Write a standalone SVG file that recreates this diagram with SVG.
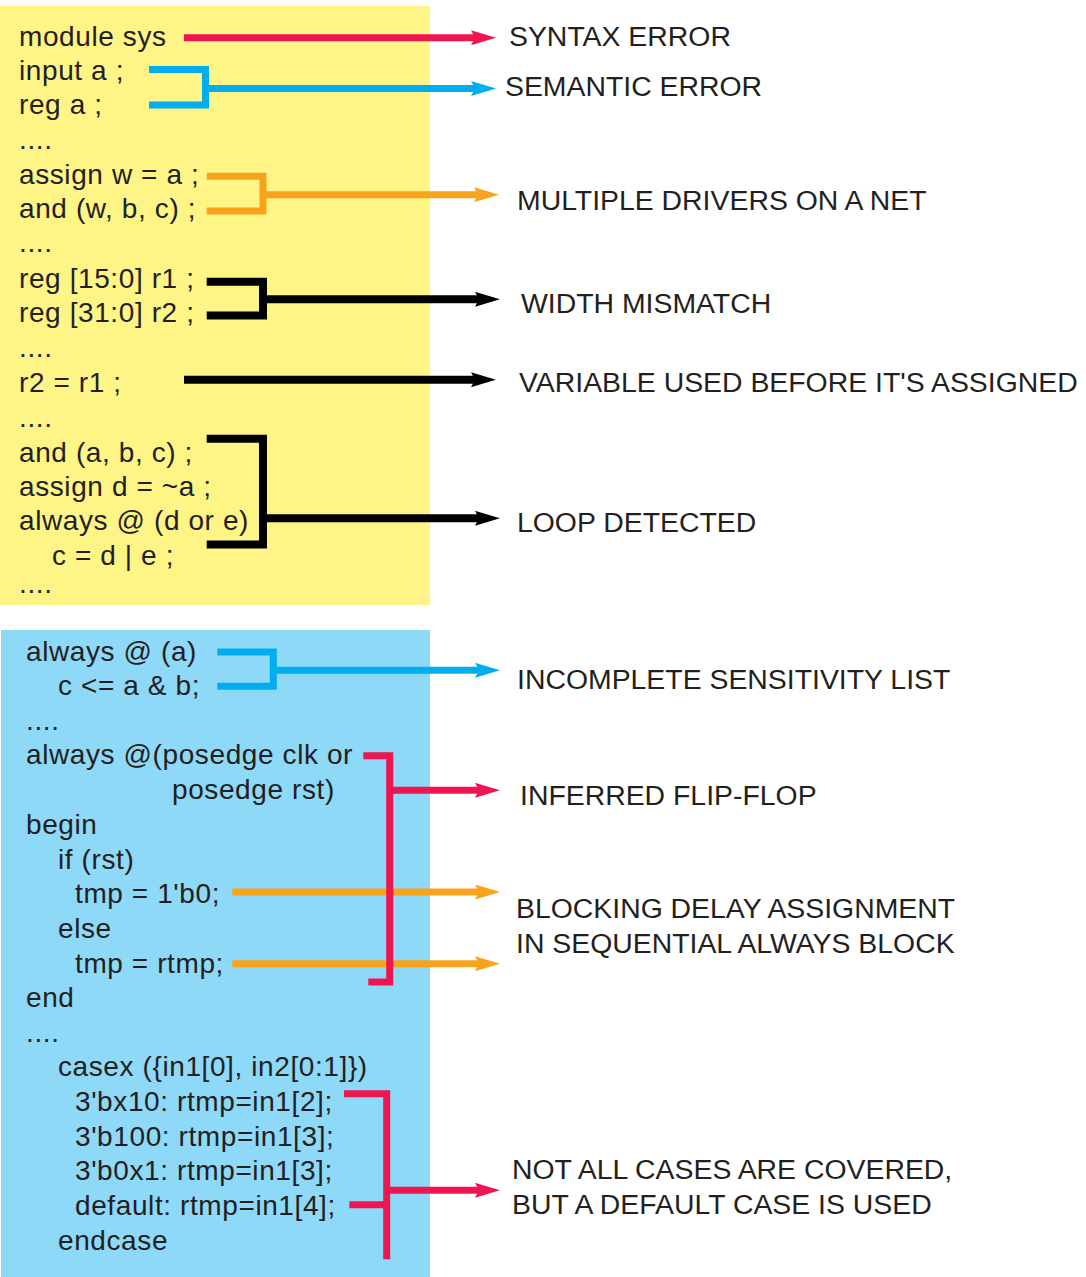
<svg xmlns="http://www.w3.org/2000/svg" width="1086" height="1277" viewBox="0 0 1086 1277">
<style>
.code{font-family:"Liberation Sans",Arial,sans-serif;font-size:28px;fill:#231F20;letter-spacing:0.6px}
.lbl{font-family:"Liberation Sans",Arial,sans-serif;font-size:28.4px;fill:#231F20}
.br{fill:none;stroke-linejoin:miter;stroke-linecap:butt}
.red{stroke:#ED1651;stroke-width:7}
.cyan{stroke:#00AEEF;stroke-width:7}
.orange{stroke:#F7A31C;stroke-width:7}
.black{stroke:#000;stroke-width:8}
</style>
<defs>
<marker id="hr" viewBox="0 0 25 15" markerWidth="25" markerHeight="15" refX="5" refY="7.5" orient="auto" markerUnits="userSpaceOnUse"><path d="M0,0 L25,7.5 L0,15 L4,7.5 Z" fill="#ED1651"/></marker>
<marker id="hc" viewBox="0 0 25 15" markerWidth="25" markerHeight="15" refX="5" refY="7.5" orient="auto" markerUnits="userSpaceOnUse"><path d="M0,0 L25,7.5 L0,15 L4,7.5 Z" fill="#00AEEF"/></marker>
<marker id="ho" viewBox="0 0 25 15" markerWidth="25" markerHeight="15" refX="5" refY="7.5" orient="auto" markerUnits="userSpaceOnUse"><path d="M0,0 L25,7.5 L0,15 L4,7.5 Z" fill="#F7A31C"/></marker>
<marker id="hk" viewBox="0 0 25 15" markerWidth="25" markerHeight="15" refX="5" refY="7.5" orient="auto" markerUnits="userSpaceOnUse"><path d="M0,0 L25,7.5 L0,15 L4,7.5 Z" fill="#000"/></marker>
</defs>
<g id="panel-yellow">
<rect x="0" y="6" width="430" height="599" fill="#FFF587"/>
<text class="code" x="19" y="46">module sys</text>
<text class="code" x="19" y="80">input a ;</text>
<text class="code" x="19" y="114">reg a ;</text>
<text class="code" x="19" y="149">....</text>
<text class="code" x="19" y="184">assign w = a ;</text>
<text class="code" x="19" y="218">and (w, b, c) ;</text>
<text class="code" x="19" y="252">....</text>
<text class="code" x="19" y="288">reg [15:0] r1 ;</text>
<text class="code" x="19" y="322">reg [31:0] r2 ;</text>
<text class="code" x="19" y="357">....</text>
<text class="code" x="19" y="391.5">r2 = r1 ;</text>
<text class="code" x="19" y="427">....</text>
<text class="code" x="19" y="461.5">and (a, b, c) ;</text>
<text class="code" x="19" y="496">assign d = ~a ;</text>
<text class="code" x="19" y="529.5">always @ (d or e)</text>
<text class="code" x="52" y="565">c = d | e ;</text>
<text class="code" x="19" y="593">....</text>
</g>
<g id="panel-blue">
<rect x="1" y="630" width="429" height="647" fill="#8ED8F8"/>
<text class="code" x="26" y="661">always @ (a)</text>
<text class="code" x="58" y="695">c &lt;= a &amp; b;</text>
<text class="code" x="26" y="730">....</text>
<text class="code" x="26" y="764">always @(posedge clk or</text>
<text class="code" x="172" y="798.5">posedge rst)</text>
<text class="code" x="26" y="833.5">begin</text>
<text class="code" x="58" y="868.5">if (rst)</text>
<text class="code" x="75" y="903">tmp = 1'b0;</text>
<text class="code" x="58" y="938">else</text>
<text class="code" x="75" y="973">tmp = rtmp;</text>
<text class="code" x="26" y="1007">end</text>
<text class="code" x="26" y="1042">....</text>
<text class="code" x="58" y="1076">casex ({in1[0], in2[0:1]})</text>
<text class="code" x="75" y="1111">3'bx10: rtmp=in1[2];</text>
<text class="code" x="75" y="1146">3'b100: rtmp=in1[3];</text>
<text class="code" x="75" y="1180">3'b0x1: rtmp=in1[3];</text>
<text class="code" x="75" y="1215">default: rtmp=in1[4];</text>
<text class="code" x="58" y="1249.5">endcase</text>
</g>
<g id="labels">
<text id="l-syntax" class="lbl" x="509" y="46">SYNTAX ERROR</text>
<text id="l-semantic" class="lbl" x="505" y="96">SEMANTIC ERROR</text>
<text id="l-multi" class="lbl" x="517" y="210">MULTIPLE DRIVERS ON A NET</text>
<text id="l-width" class="lbl" x="521" y="313">WIDTH MISMATCH</text>
<text id="l-var" class="lbl" x="519" y="392">VARIABLE USED BEFORE IT'S ASSIGNED</text>
<text id="l-loop" class="lbl" x="517" y="532">LOOP DETECTED</text>
<text id="l-incomplete" class="lbl" x="517" y="689">INCOMPLETE SENSITIVITY LIST</text>
<text id="l-ff" class="lbl" x="520" y="805">INFERRED FLIP-FLOP</text>
<text id="l-blocking" class="lbl" x="516" y="918">BLOCKING DELAY ASSIGNMENT</text>
<text class="lbl" x="516" y="953">IN SEQUENTIAL ALWAYS BLOCK</text>
<text id="l-cases" class="lbl" x="512" y="1179">NOT ALL CASES ARE COVERED,</text>
<text class="lbl" x="512" y="1214">BUT A DEFAULT CASE IS USED</text>
</g>
<g id="connectors">
<path class="br red" d="M184,37.7 H476" marker-end="url(#hr)"/>
<path class="br cyan" d="M149,69.5 H205.5 V105 H149"/>
<path class="br cyan" d="M205.5,88.5 H476" marker-end="url(#hc)"/>
<path class="br orange" d="M206.7,176.3 H263 V211 H206.7"/>
<path class="br orange" d="M263,194.7 H479" marker-end="url(#ho)"/>
<path class="br black" d="M206.7,281.7 H263 V315.5 H206.7"/>
<path class="br black" d="M263,299.3 H480" marker-end="url(#hk)"/>
<path class="br black" d="M184,379.7 H476" marker-end="url(#hk)"/>
<path class="br black" d="M206.7,438.7 H263 V544.5 H206.7"/>
<path class="br black" d="M263,518.3 H480" marker-end="url(#hk)"/>
<path class="br cyan" d="M217.3,652 H273.3 V686.3 H217.3"/>
<path class="br cyan" d="M273.3,670.3 H480" marker-end="url(#hc)"/>
<path class="br orange" d="M232.3,892 H480" marker-end="url(#ho)"/>
<path class="br orange" d="M232.3,963.7 H480" marker-end="url(#ho)"/>
<path class="br red" d="M363.3,755.8 H389.7 V982 H368.3"/>
<path class="br red" d="M389.7,790.3 H480" marker-end="url(#hr)"/>
<path class="br red" d="M344,1093.7 H386.7 V1259.3"/>
<path class="br red" d="M349.3,1204.7 H386.7"/>
<path class="br red" d="M386.7,1190.3 H480" marker-end="url(#hr)"/>
</g>
</svg>
